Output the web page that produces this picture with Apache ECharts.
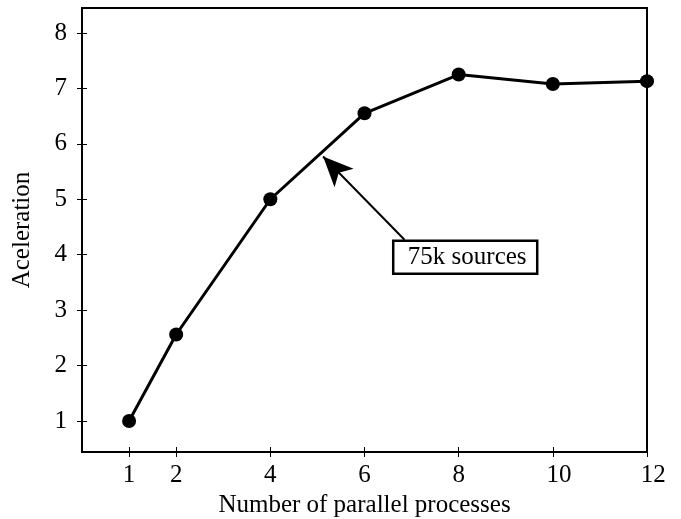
<!DOCTYPE html>
<html><head><meta charset="utf-8">
<script src="https://cdn.jsdelivr.net/npm/echarts@6/dist/echarts.min.js"></script>
<style>html,body{margin:0;padding:0;background:#fff}#c{width:681px;height:519px}</style>
</head><body><div id="c"></div>
<script>
var processes = [1, 2, 4, 6, 8, 10, 12];
var acceleration = [1.0, 2.56, 5.0, 6.55, 7.25, 7.08, 7.13];
var xTicks = [1, 2, 4, 6, 8, 10, 12];
var yTicks = [1, 2, 3, 4, 5, 6, 7, 8];
var xTitle = 'Number of parallel processes';
var yTitle = 'Aceleration';
var noteText = '75k sources';
var arrowFrom = [6.85, 4.27];
var arrowTo = [5.12, 5.77];
var boxCorner = [6.61, 4.25];

var FONT = '"Liberation Serif", "DejaVu Serif", serif';
var FS = 25;
var chart = echarts.init(document.getElementById('c'), null, {renderer: 'canvas'});
var pts = processes.map(function (p, i) { return [p, acceleration[i]]; });
var xBase = {type: 'value', min: 0, max: 12, position: 'bottom',
  splitLine: {show: false}, axisLine: {show: true, onZero: false, lineStyle: {color: '#000', width: 2}}};
var yBase = {type: 'value', min: 0.44, max: 8.45, position: 'left',
  splitLine: {show: false}, axisLine: {show: true, onZero: false, lineStyle: {color: '#000', width: 2}}};
chart.setOption({
  animation: false,
  backgroundColor: '#fff',
  grid: {left: 82, right: 34, top: 8, bottom: 67, show: true, borderColor: '#000', borderWidth: 2,
    containLabel: false, outerBoundsMode: 'none'},
  xAxis: [
    Object.assign({}, xBase, {
      name: xTitle, nameLocation: 'middle', nameGap: 35,
      nameTextStyle: {fontFamily: FONT, fontSize: FS, color: '#000'},
      axisTick: {show: true, inside: false, length: 5, lineStyle: {color: '#000', width: 1}, customValues: xTicks},
      axisLabel: {fontFamily: FONT, fontSize: FS, color: '#000', margin: 11, customValues: xTicks,
        formatter: function (v) { return v >= 10 ? '  ' + v : String(v); }}
    }),
    Object.assign({}, xBase, {
      axisTick: {show: true, inside: true, length: 5, lineStyle: {color: '#000', width: 1}, customValues: xTicks},
      axisLabel: {show: false}
    })
  ],
  yAxis: [
    Object.assign({}, yBase, {
      name: yTitle, nameLocation: 'middle', nameGap: 47,
      nameTextStyle: {fontFamily: FONT, fontSize: FS, color: '#000'},
      axisTick: {show: true, inside: false, length: 5, lineStyle: {color: '#000', width: 1}, customValues: yTicks},
      axisLabel: {fontFamily: FONT, fontSize: FS, color: '#000', margin: 15, customValues: yTicks}
    }),
    Object.assign({}, yBase, {
      axisTick: {show: true, inside: true, length: 5, lineStyle: {color: '#000', width: 1}, customValues: yTicks},
      axisLabel: {show: false}
    })
  ],
  series: [{
    type: 'line', data: pts, xAxisIndex: 0, yAxisIndex: 0,
    symbol: 'circle', symbolSize: 14,
    lineStyle: {color: '#000', width: 3}, itemStyle: {color: '#000'},
    markLine: {
      silent: true, symbol: ['none', 'arrow'], symbolSize: [20, 30],
      lineStyle: {color: '#000', width: 2, type: 'solid'},
      label: {show: false},
      data: [[{coord: arrowFrom}, {coord: arrowTo}]]
    }
  }]
});
var p = chart.convertToPixel({xAxisIndex: 0, yAxisIndex: 0}, boxCorner);
chart.setOption({
  graphic: [{
    type: 'group', x: p[0], y: p[1], z: 100,
    children: [
      {type: 'rect', shape: {x: 0, y: 0, width: 144, height: 33},
       style: {fill: '#fff', stroke: '#000', lineWidth: 2.5}},
      {type: 'text', x: 74, y: 17,
       style: {text: noteText, font: FS + 'px ' + FONT, fill: '#000', align: 'center', verticalAlign: 'middle'}}
    ]
  }]
});
</script></body></html>
